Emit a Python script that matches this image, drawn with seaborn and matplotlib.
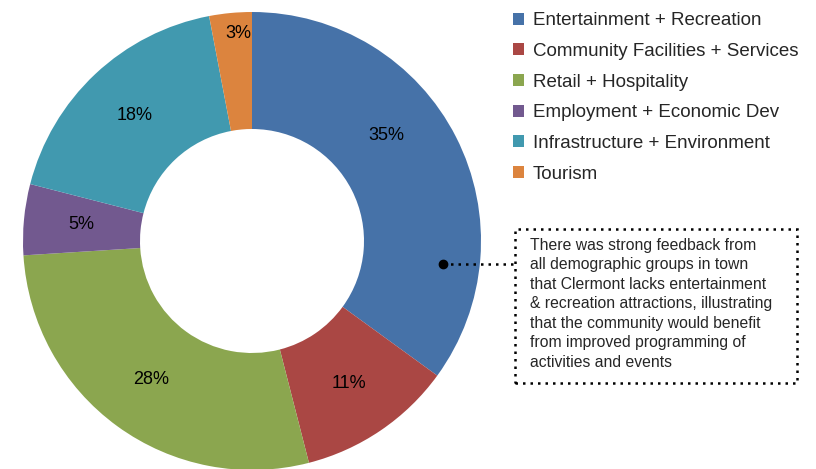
import matplotlib
matplotlib.use("Agg")
import matplotlib.pyplot as plt
import matplotlib.patches as mpatches
import seaborn as sns

sns.set_theme(style="white")
plt.rcParams["font.family"] = ["Liberation Sans", "DejaVu Sans"]

categories = [
    "Entertainment + Recreation",
    "Community Facilities + Services",
    "Retail + Hospitality",
    "Employment + Economic Dev",
    "Infrastructure + Environment",
    "Tourism",
]
shares = [35, 11, 28, 5, 18, 3]
colors = sns.color_palette(["#4672A8", "#AA4744", "#8BA64F", "#72598F", "#4199AF", "#DC843E"])

note = ("There was strong feedback from\n"
        "all demographic groups in town\n"
        "that Clermont lacks entertainment\n"
        "& recreation attractions, illustrating\n"
        "that the community would benefit\n"
        "from improved programming of\n"
        "activities and events")

fig = plt.figure(figsize=(8.16, 4.69), dpi=100)
ax = fig.add_axes([0, 0, 1, 1])

wedges, _, pcts = ax.pie(
    shares, colors=colors, startangle=90, counterclock=False,
    center=(252, 228), radius=229, frame=True,
    wedgeprops=dict(width=117, linewidth=0),
    autopct="%d%%", pctdistance=0.75,
    textprops=dict(fontsize=13, color="black"),
)
ax.set_xlim(0, 816)
ax.set_ylim(0, 469)
ax.set_aspect("equal")
ax.axis("off")

# Excel nudges the big and the tiny labels
pcts[0].set_position((386, 334))
pcts[5].set_position((238, 436))

ax.legend(
    wedges, categories, loc="upper left", bbox_to_anchor=(501 / 816, 1.0),
    frameon=False, fontsize=13.5, handlelength=0.6, handleheight=0.6,
    handletextpad=0.45, labelspacing=0.73, borderaxespad=0.25,
)

# callout box
ax.add_patch(mpatches.Rectangle((515, 86), 282, 154, fill=False,
                                linestyle=(0, (1, 2)), linewidth=1.8, edgecolor="black"))
ax.plot([443, 515], [205, 205], linestyle=(0, (1, 2)), linewidth=1.8, color="black")
ax.plot(443, 205, "o", color="black", markersize=6)
ax.text(530, 231, note, fontsize=11.3, va="top", ha="left", linespacing=1.37)

fig.savefig("out.png", dpi=100)
